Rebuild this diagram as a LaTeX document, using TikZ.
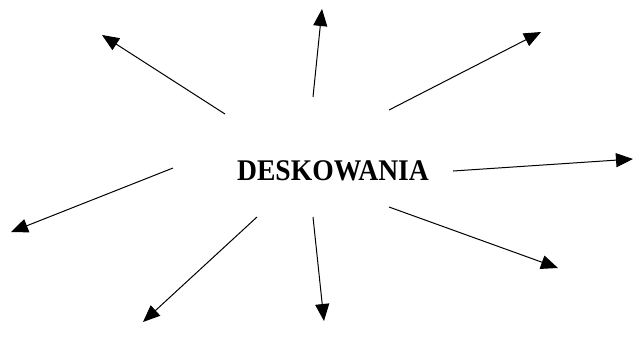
\documentclass[tikz,border=0pt]{standalone}
\usepackage{fontspec}
\setmainfont{Liberation Serif}
\usetikzlibrary{arrows.meta}

\begin{document}
\begin{tikzpicture}[x=1pt, y=-1pt, >={Triangle[length=17pt,width=14pt]}, line width=1pt,
	every node/.style={inner sep=0pt}]
	\useasboundingbox (0,0) rectangle (633,349);
	%Centre
	\node (hub) at (333,171) {\scalebox{0.92}[1]{\fontsize{30}{32}\selectfont\bfseries DESKOWANIA}};
	%Arrow starts
	\coordinate (s1) at (225,114);
	\coordinate (s2) at (313,97);
	\coordinate (s3) at (389,110);
	\coordinate (s4) at (453,171);
	\coordinate (s5) at (389,207);
	\coordinate (s6) at (313,217);
	\coordinate (s7) at (257,217);
	\coordinate (s8) at (173,168);
	%Arrow tips
	\coordinate (e1) at (102,35);
	\coordinate (e2) at (322,9);
	\coordinate (e3) at (541,32);
	\coordinate (e4) at (633,159);
	\coordinate (e5) at (558,268);
	\coordinate (e6) at (324,321);
	\coordinate (e7) at (143,322);
	\coordinate (e8) at (11,232);
	%Arrows
	\draw[->] (s1) -- (e1);
	\draw[->] (s2) -- (e2);
	\draw[->] (s3) -- (e3);
	\draw[->] (s4) -- (e4);
	\draw[->] (s5) -- (e5);
	\draw[->] (s6) -- (e6);
	\draw[->] (s7) -- (e7);
	\draw[->] (s8) -- (e8);
\end{tikzpicture}
\end{document}
